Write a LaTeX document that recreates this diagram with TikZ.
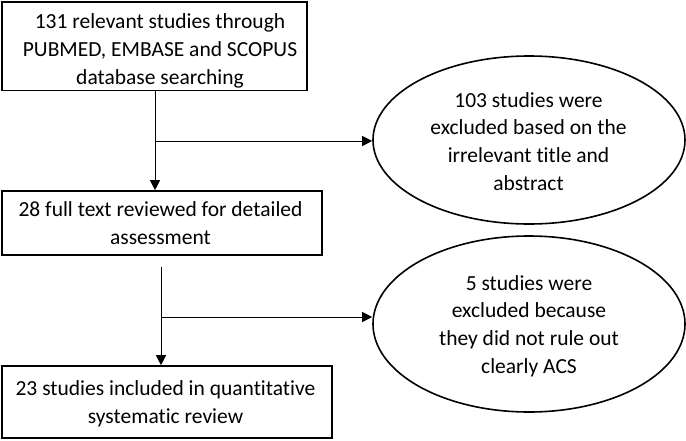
\documentclass[tikz,border=0pt]{standalone}
\usepackage{fontspec}
\setmainfont{Carlito}[Ligatures=NoCommon]
\usetikzlibrary{shapes.geometric,arrows.meta}
\begin{document}
\begin{tikzpicture}[x=1pt,y=-1pt,
  txt/.style={font=\fontsize{21.5}{27.8}\selectfont, align=center, inner sep=0pt},
  box/.style={draw, line width=1.6pt, rectangle, inner sep=0pt},
  oval/.style={draw, line width=1.6pt, ellipse, inner sep=0pt, minimum width=312pt},
  arr/.style={line width=1pt, -{Triangle[length=10pt,width=10pt]}}]
\useasboundingbox (0,0) rectangle (686,440);
% shapes
\node[box, minimum width=305pt, minimum height=88.5pt] (b1) at (154.5,46.3) {};
\node[box, minimum width=320pt, minimum height=64pt] (b2) at (162,223) {};
\node[box, minimum width=330pt, minimum height=72pt] (b3) at (167,402) {};
\node[oval, minimum height=168pt] (e1) at (529,140) {};
\node[oval, minimum height=176pt] (e2) at (529,324) {};
% texts
\node[txt] (t1) at (160,51) {131 relevant studies through\\PUBMED, EMBASE and SCOPUS\\database searching};
\node[txt] (t2) at (160.5,223.5) {28 full text reviewed for detailed\\assessment};
\node[txt] (t3) at (165.5,403.7) {23 studies included in quantitative\\systematic review};
\node[txt] (t4) at (528.5,141.5) {103 studies were\\excluded based on the\\irrelevant title and\\abstract};
\node[txt] (t5) at (529,326) {5 studies were\\excluded because\\they did not rule out\\clearly ACS};
% connectors
\coordinate (j1) at (155,141);
\coordinate (s2) at (161,267);
\coordinate (j2) at (161,317);
\draw[arr] (j1 |- b1.south) -- (j1 |- b2.north);
\draw[arr] (j1) -- (e1.west |- j1);
\draw[arr] (s2) -- (s2 |- b3.north);
\draw[arr] (j2) -- (e2.west |- j2);
\end{tikzpicture}
\end{document}
